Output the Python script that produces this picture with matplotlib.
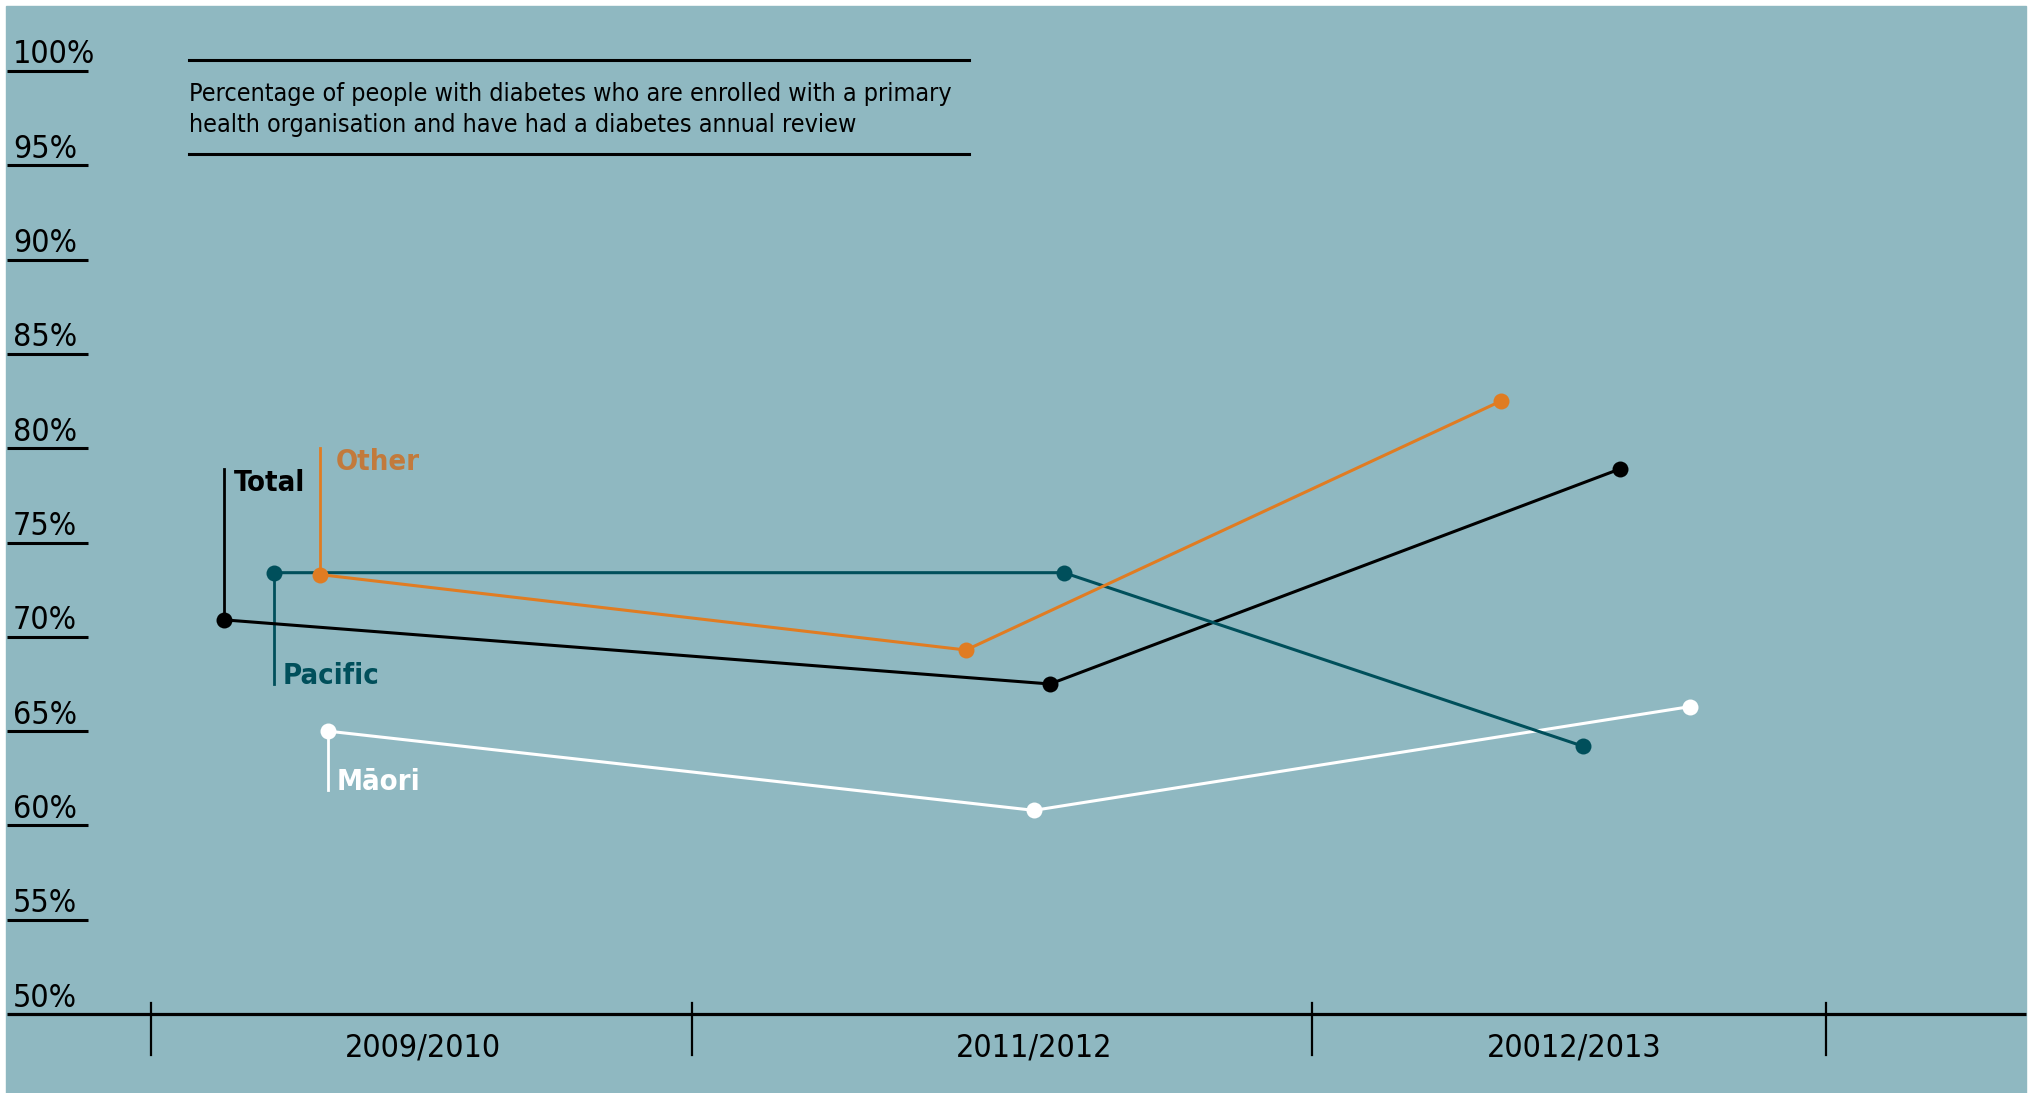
import matplotlib
matplotlib.use("Agg")
import matplotlib.pyplot as plt
from matplotlib.patches import Rectangle
from matplotlib import font_manager

# data (percent)
periods = ["2009/2010", "2011/2012", "20012/2013"]
total = [70.9, 67.5, 78.9]
other = [73.3, 69.3, 82.5]
pacific = [73.4, 73.4, 64.2]
maori = [65.0, 60.8, 66.3]
yticks = [50, 55, 60, 65, 70, 75, 80, 85, 90, 95, 100]

title = ("Percentage of people with diabetes who are enrolled with a primary\n"
         "health organisation and have had a diabetes annual review")

# layout (x in pixels of the 2031 px wide figure)
W, H = 2031, 1093
x_pos = {
    "Total":   [224, 1050, 1620],
    "Other":   [320, 966, 1501],
    "Pacific": [274, 1064, 1583],
    "Māori":   [328, 1034, 1690],
}
colors = {"Total": "#000000", "Other": "#e07c22",
          "Pacific": "#004f5b", "Māori": "#ffffff"}
label_colors = {"Total": "#000000", "Other": "#c27a3c",
                "Pacific": "#004f5b", "Māori": "#ffffff"}
# leader line end (percent) and label offset x
leader_end = {"Total": 78.9, "Other": 80.0, "Pacific": 67.5, "Māori": 61.9}
label_dx = {"Total": 10, "Other": 16, "Pacific": 9, "Māori": 9}
label_va = {"Total": "top", "Other": "top", "Pacific": "baseline", "Māori": "baseline"}
period_x = [423, 1034, 1574]
sep_x = [151, 692, 1312, 1826]

# pick the narrowest sans available
fl = font_manager.fontManager.ttflist
names = {f.name for f in fl}
stretch = "normal"
if "Liberation Sans Narrow" in names:
    fam = "Liberation Sans Narrow"
elif any(f.name == "DejaVu Sans" and f.stretch == "condensed" for f in fl):
    fam, stretch = "DejaVu Sans", "condensed"
elif "Roboto" in names:
    fam = "Roboto"
else:
    fam = "DejaVu Sans"
plt.rcParams["font.family"] = [fam, "DejaVu Sans"]
plt.rcParams["font.stretch"] = stretch

fig = plt.figure(figsize=(W / 100, H / 100), dpi=100)
fig.patch.set_facecolor("white")

ax = fig.add_axes([0, 0, 1, 1])
ax.set_facecolor("none")
ppu = 18.88  # pixels per percent
top_px = 71   # pixel row of 100%
ax.set_xlim(0, W)
ax.set_ylim(50 - (H - 1014) / ppu, 100 + top_px / ppu)
ax.axis("off")
ax.add_patch(Rectangle((6 / W, 0), (2026 - 6) / W, (H - 6) / H,
                       transform=ax.transAxes, color="#8fb8c1", zorder=0))

# y labels with underlines
for v in yticks:
    ax.text(13, v + 0.4, f"{v}%", fontsize=23, va="baseline", ha="left", color="black")
    if v != 50:
        ax.plot([7, 88], [v, v], color="black", lw=2.2, solid_capstyle="butt")

# x axis
ax.plot([7, 2026], [50, 50], color="black", lw=2.3, solid_capstyle="butt")
for sx in sep_x:
    ax.plot([sx, sx], [50 + 11 / ppu, 50 - 41 / ppu], color="black", lw=1.6)
for px, p in zip(period_x, periods):
    ax.text(px, 50 - 42 / ppu, p, fontsize=23, ha="center", va="baseline", color="black")

# series
series = {"Total": total, "Other": other, "Pacific": pacific, "Māori": maori}
order = ["Māori", "Total", "Pacific", "Other"]
for name in order:
    vals = series[name]
    c = colors[name]
    ax.plot(x_pos[name], vals, color=c, lw=2.2, marker="o", markersize=11.5,
            markeredgewidth=0, zorder=3)
    x0 = x_pos[name][0]
    ax.plot([x0, x0], [vals[0], leader_end[name]], color=c, lw=2.0, zorder=2)
    ax.text(x0 + label_dx[name], leader_end[name], name, fontsize=21,
            fontweight="bold", color=label_colors[name], ha="left",
            va=label_va[name])

# title box
fig.add_artist(plt.Line2D([189 / W, 969 / W], [1 - 60 / H, 1 - 60 / H],
                          color="black", lw=2.2))
fig.add_artist(plt.Line2D([189 / W, 969 / W], [1 - 154 / H, 1 - 154 / H],
                          color="black", lw=2.2))
fig.text(189 / W, 1 - 101 / H, title.split("\n")[0], fontsize=18, va="baseline")
fig.text(189 / W, 1 - 132 / H, title.split("\n")[1], fontsize=18, va="baseline")

fig.savefig("out.png", dpi=100)
